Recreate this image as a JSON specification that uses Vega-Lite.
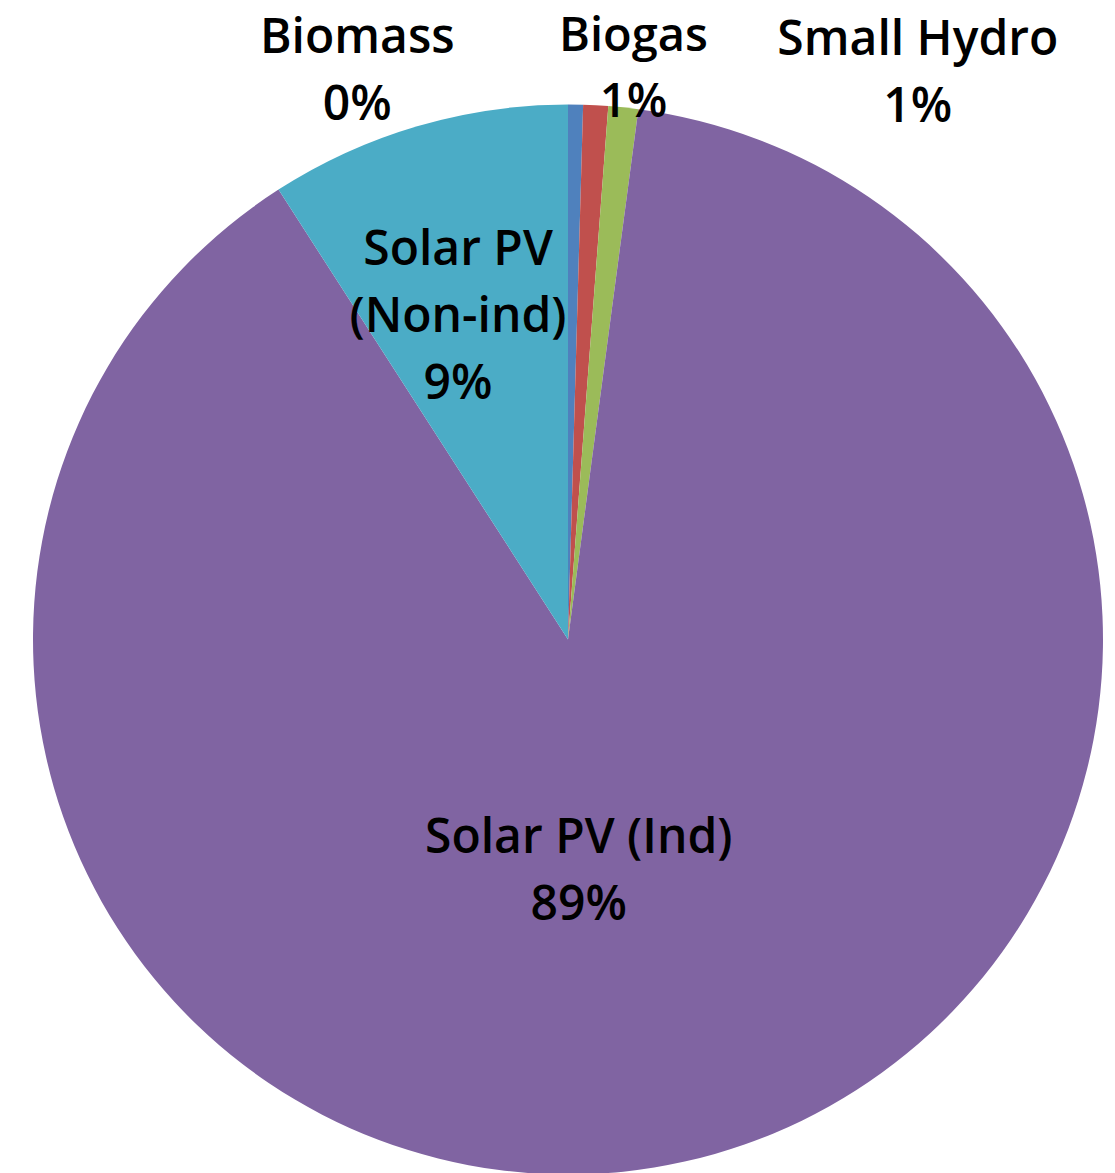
{
  "$schema": "https://vega.github.io/schema/vega-lite/v6.json",
  "width": 1094,
  "height": 1067,
  "autosize": "none",
  "padding": {"left": 21, "right": 0, "top": 106, "bottom": 0},
  "background": "white",
  "config": {"view": {"stroke": null}},
  "data": {
    "values": [
      {"source": "Biomass", "share": 0.45, "label": "Biomass\n0%", "idx": 1},
      {"source": "Biogas", "share": 0.75, "label": "Biogas\n1%", "idx": 2},
      {"source": "Small Hydro", "share": 0.9, "label": "Small Hydro\n1%", "idx": 3},
      {"source": "Solar PV (Ind)", "share": 88.8, "label": "Solar PV (Ind)\n89%", "idx": 4},
      {"source": "Solar PV (Non-ind)", "share": 9.1, "label": "Solar PV\n(Non-ind)\n9%", "idx": 5}
    ]
  },
  "encoding": {
    "theta": {"field": "share", "type": "quantitative", "stack": true},
    "order": {"field": "idx", "type": "quantitative"}
  },
  "layer": [
    {
      "mark": {"type": "arc", "radius": 535},
      "encoding": {
        "color": {
          "field": "source",
          "type": "nominal",
          "scale": {
            "domain": ["Biomass", "Biogas", "Small Hydro", "Solar PV (Ind)", "Solar PV (Non-ind)"],
            "range": ["#4F81BD", "#C0504D", "#9BBB59", "#8064A2", "#4BACC6"]
          },
          "legend": null
        }
      }
    },
    {
      "mark": {"type": "text", "radius": 586.5, "dx": -219, "align": "center", "baseline": "alphabetic", "fontSize": 48, "font": "Open Sans", "fontWeight": 600, "lineHeight": 67, "lineBreak": "\n", "color": "black"},
      "encoding": {"text": {"condition": {"test": "datum.source === 'Biomass'", "field": "label"}, "value": ""}}
    },
    {
      "mark": {"type": "text", "radius": 589, "dx": 35, "align": "center", "baseline": "alphabetic", "fontSize": 47, "font": "Open Sans", "fontWeight": 600, "lineHeight": 66, "lineBreak": "\n", "color": "black"},
      "encoding": {"text": {"condition": {"test": "datum.source === 'Biogas'", "field": "label"}, "value": ""}}
    },
    {
      "mark": {"type": "text", "radius": 587.6, "dx": 289, "align": "center", "baseline": "alphabetic", "fontSize": 48, "font": "Open Sans", "fontWeight": 600, "lineHeight": 67, "lineBreak": "\n", "color": "black"},
      "encoding": {"text": {"condition": {"test": "datum.source === 'Small Hydro'", "field": "label"}, "value": ""}}
    },
    {
      "mark": {"type": "text", "radius": 219, "dx": -37, "align": "center", "baseline": "alphabetic", "fontSize": 48, "font": "Open Sans", "fontWeight": 600, "lineHeight": 67, "lineBreak": "\n", "color": "black"},
      "encoding": {"text": {"condition": {"test": "datum.source === 'Solar PV (Ind)'", "field": "label"}, "value": ""}}
    },
    {
      "mark": {"type": "text", "radius": 390, "dx": 0, "align": "center", "baseline": "alphabetic", "fontSize": 48, "font": "Open Sans", "fontWeight": 600, "lineHeight": 67, "lineBreak": "\n", "color": "black"},
      "encoding": {"text": {"condition": {"test": "datum.source === 'Solar PV (Non-ind)'", "field": "label"}, "value": ""}}
    }
  ]
}
